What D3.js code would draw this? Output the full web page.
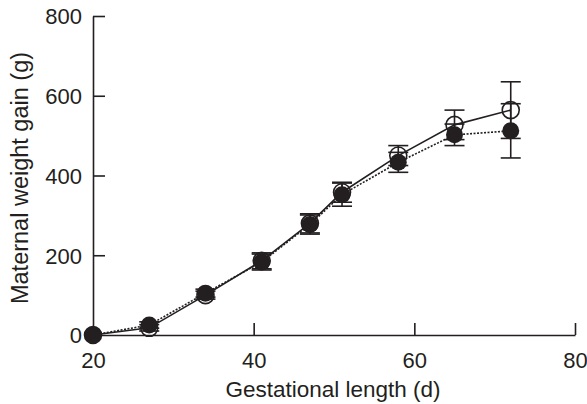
<!DOCTYPE html>
<html><head><meta charset="utf-8">
<script src="https://cdn.jsdelivr.net/npm/d3@7"></script>
<style>
html,body{margin:0;padding:0;background:#fff;}
svg{display:block;}
text{font-family:"Liberation Sans",Arial,Helvetica,sans-serif;fill:#231f20;}
</style></head>
<body>
<script>
const days = [20, 27, 34, 41, 47, 51, 58, 65, 72];
const openMean = [0, 18, 100, 186, 280, 358, 450, 527, 564];
const openSD   = [0, 8, 10, 20, 24, 25, 25, 37, 71];
const filledMean = [0, 25, 105, 183, 277, 352, 433, 502, 512];
const filledSD   = [0, 8, 10, 20, 24, 29, 25, 27, 68];
const xTicks = [20, 40, 60, 80];
const yTicks = [0, 200, 400, 600, 800];
const xTitle = "Gestational length (d)";
const yTitle = "Maternal weight gain (g)";

const W = 587, H = 404;
const col = "#231f20";
const svg = d3.select("body").append("svg").attr("width", W).attr("height", H);

const x = d3.scaleLinear().domain([20, 80]).range([93, 575]);
const y = d3.scaleLinear().domain([0, 800]).range([335, 16]);

// axes
const xAxis = svg.append("g").attr("transform", `translate(0,${y(0)})`)
  .call(d3.axisBottom(x).tickValues(xTicks).tickSize(-12).tickPadding(17).tickSizeOuter(0));
const yAxis = svg.append("g").attr("transform", `translate(${x(20)},0)`)
  .call(d3.axisLeft(y).tickValues(yTicks).tickSize(-12).tickPadding(11).tickSizeOuter(0));
[xAxis, yAxis].forEach(g => {
  g.select(".domain").attr("stroke", col).attr("stroke-width", 1.6);
  g.selectAll(".tick line").attr("stroke", col).attr("stroke-width", 1.6);
  g.selectAll(".tick text").attr("fill", col).style("font-size", "22px")
   .style("font-family", '"Liberation Sans",Arial,sans-serif');
});
xAxis.selectAll(".tick text").attr("dy", "0.71em");
yAxis.selectAll(".tick text").attr("dy", "0.36em");
xAxis.selectAll(".tick").filter(d => d === 20).select("line").remove();
yAxis.selectAll(".tick").filter(d => d === 0).select("line").remove();

// titles
svg.append("text").attr("x", 333).attr("y", 397).attr("text-anchor", "middle")
  .style("font-size", "22.5px").text(xTitle);
svg.append("text").attr("transform", `translate(28,${178}) rotate(-90)`)
  .attr("text-anchor", "middle").style("font-size", "23.5px").text(yTitle);

const openData = days.map((d, i) => ({d, m: openMean[i], s: openSD[i]}));
const filledData = days.map((d, i) => ({d, m: filledMean[i], s: filledSD[i]}));

const line = d3.line().x(p => x(p.d)).y(p => y(p.m));

function errorBars(data) {
  const g = svg.append("g").attr("stroke", col).attr("stroke-width", 1.6).attr("fill", "none");
  data.filter(p => p.s > 0).forEach(p => {
    const cx = x(p.d);
    g.append("line").attr("x1", cx).attr("x2", cx).attr("y1", y(p.m - p.s)).attr("y2", y(p.m + p.s));
    g.append("line").attr("x1", cx - 10).attr("x2", cx + 10).attr("y1", y(p.m + p.s)).attr("y2", y(p.m + p.s));
    g.append("line").attr("x1", cx - 10).attr("x2", cx + 10).attr("y1", y(p.m - p.s)).attr("y2", y(p.m - p.s));
  });
}

errorBars(openData);
errorBars(filledData);

svg.append("path").datum(openData).attr("d", line)
  .attr("fill", "none").attr("stroke", col).attr("stroke-width", 1.6);
svg.append("path").datum(filledData).attr("d", line)
  .attr("fill", "none").attr("stroke", col).attr("stroke-width", 1.6).attr("stroke-dasharray", "2,1.5");

svg.append("g").selectAll("circle").data(openData).join("circle")
  .attr("cx", p => x(p.d)).attr("cy", p => y(p.m)).attr("r", 8.5)
  .attr("fill", "none").attr("stroke", col).attr("stroke-width", 1.6);
svg.append("g").selectAll("circle").data(filledData).join("circle")
  .attr("cx", p => x(p.d)).attr("cy", p => y(p.m)).attr("r", 8.5)
  .attr("fill", col);
</script>
</body></html>
